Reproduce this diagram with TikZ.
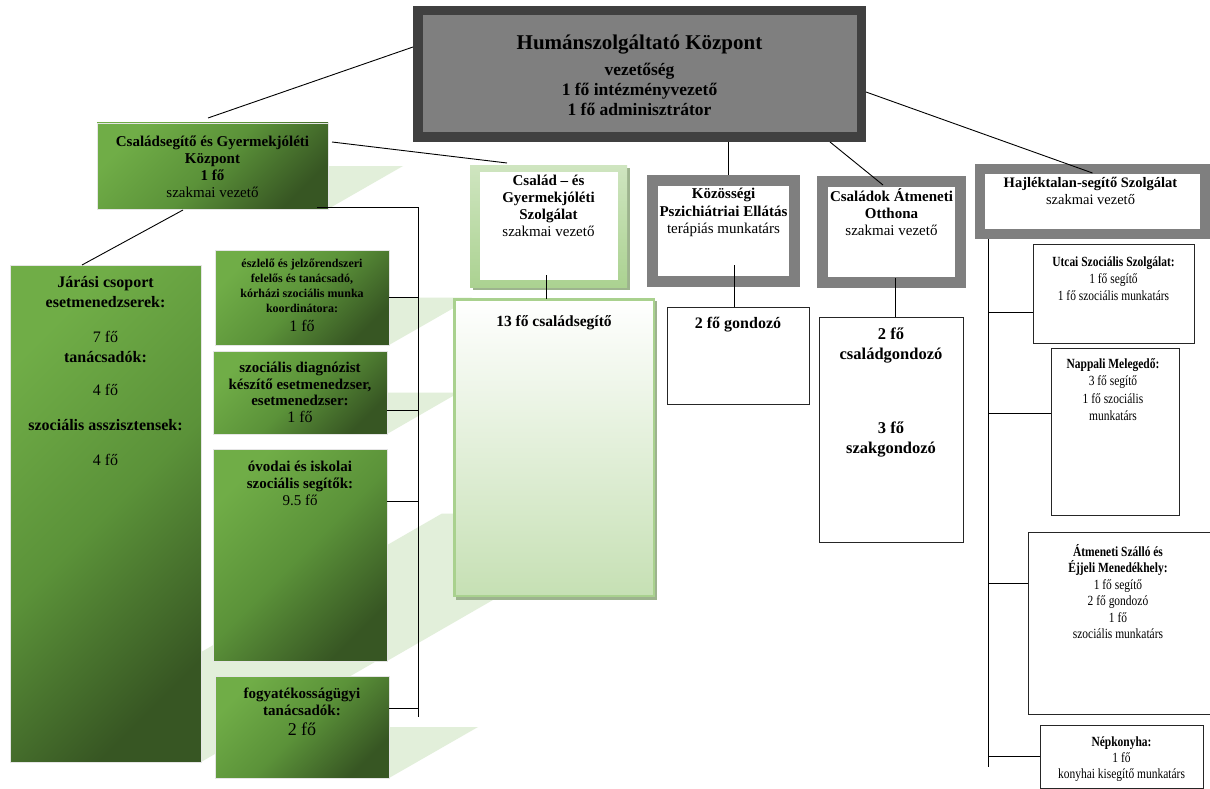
\documentclass[tikz,border=0pt]{standalone}
\usepackage{fontspec}
\setmainfont{Liberation Serif}
\newfontfamily\narrowfont[FakeStretch=0.82]{Liberation Serif}
\usetikzlibrary{calc}
\definecolor{gl}{HTML}{70AD47}
\definecolor{gm}{HTML}{5B9239}
\definecolor{gd}{HTML}{375623}
\definecolor{shd}{HTML}{E2EFDA}
\definecolor{dkgray}{HTML}{404040}
\definecolor{midgray}{HTML}{7F7F7F}
\definecolor{frtop}{HTML}{CFE5C0}
\definecolor{frbot}{HTML}{ABD291}
\definecolor{lgreen}{HTML}{A9D18E}
\definecolor{pale}{HTML}{C6E0B4}
\definecolor{boxshadow}{HTML}{9DB38E}
\tikzset{
  conn/.style={draw=black, line width=0.9pt},
  greenbox/.style={rectangle, anchor=north west, inner sep=0pt, outer sep=0pt,
    draw=black!10, line width=0.8pt,
    top color=gl, bottom color=gd, middle color=gm, shading angle=45},
  persp/.style={fill=shd},
  txt/.style={align=center, inner sep=0pt, outer sep=0pt, text=black},
  wbox/.style={rectangle, anchor=north west, inner sep=0pt, outer sep=0pt,
    draw=black!85, line width=0.9pt, fill=white},
  grayframe/.style={rectangle, inner sep=0pt, outer sep=5.5pt, draw=midgray,
    line width=11pt, fill=white},
}
\begin{document}
\begin{tikzpicture}[x=1pt,y=-1pt]
\useasboundingbox (0,0) rectangle (1210,789);
\clip (0,0) rectangle (1210,789);
\fill[white] (0,0) rectangle (1210,789);

% perspective shadows of the green boxes
\fill[persp] (10,762) -- (201,762) -- (633,513.5) -- (442,513.5) -- cycle;
\fill[persp] (97,209) -- (328,209) -- (403,166) -- (172,166) -- cycle;
\fill[persp] (215,345) -- (389,345) -- (472,297.5) -- (298,297.5) -- cycle;
\fill[persp] (213,434) -- (387,434) -- (459,392.5) -- (285,392.5) -- cycle;
\fill[persp] (213,661) -- (387,661) -- (571,555) -- (397,555) -- cycle;
\fill[persp] (215,778) -- (389,778) -- (478,727) -- (304,727) -- cycle;

% top box
\node[draw=dkgray, fill=midgray, line width=9.5pt, outer sep=4.75pt, inner sep=0pt,
  minimum width=443.5pt, minimum height=126.5pt] (top) at (639.5,74) {};
\node[txt, font=\fontsize{17.5}{20}\selectfont\bfseries] (top-t) at ([shift={(0,1.5)}]top.center)
  {{\fontsize{21}{24}\selectfont Humánszolgáltató Központ}\\[6pt]vezetőség\\1 fő intézményvezető\\1 fő adminisztrátor};

% green boxes
\node[greenbox, minimum width=231pt, minimum height=86pt] (csgyk) at (97,123) {};
\node[txt, font=\fontsize{15}{17}\selectfont] (csgyk-t) at ([shift={(0,1)}]csgyk.center)
  {\textbf{Családsegítő és Gyermekjóléti}\\\textbf{Központ}\\\textbf{1 fő}\\szakmai vezető};
\node[greenbox, minimum width=191pt, minimum height=497pt] (jarasi) at (10,265) {};
\node[txt, anchor=north, font=\fontsize{16}{20}\selectfont] (jarasi-t) at ([shift={(0,11.5)}]jarasi.north)
  {\textbf{Járási csoport}\\\textbf{esetmenedzserek:}\\[15pt]7 fő\\\textbf{tanácsadók:}\\[13pt]4 fő\\[15pt]\textbf{szociális asszisztensek:}\\[15pt]4 fő};
\node[greenbox, minimum width=174pt, minimum height=95pt] (eszlelo) at (215,250) {};
\node[txt, font=\fontsize{12}{15.2}\selectfont] (eszlelo-t) at ([shift={(0,-2.5)}]eszlelo.center)
  {\textbf{észlelő és jelzőrendszeri}\\\textbf{felelős és tanácsadó,}\\\textbf{kórházi szociális munka}\\\textbf{koordinátora:}\\[3pt]{\fontsize{16}{17}\selectfont 1 fő}};
\node[greenbox, minimum width=174pt, minimum height=83pt] (szocdiag) at (213,351) {};
\node[txt, font=\fontsize{15}{16.7}\selectfont] (szocdiag-t) at ([shift={(0,0)}]szocdiag.center)
  {\textbf{szociális diagnózist}\\\textbf{készítő esetmenedzser,}\\\textbf{esetmenedzser:}\\{\fontsize{16}{17}\selectfont 1 fő}};
\node[greenbox, minimum width=174pt, minimum height=212pt] (ovodai) at (213,449) {};
\node[txt, anchor=north, font=\fontsize{15}{17}\selectfont] (ovodai-t) at ([shift={(0,12)}]ovodai.north)
  {\textbf{óvodai és iskolai}\\\textbf{szociális segítők:}\\9.5 fő};
\node[greenbox, minimum width=174pt, minimum height=102pt] (fogyatek) at (215,676) {};
\node[txt, anchor=north, font=\fontsize{15}{17}\selectfont] (fogyatek-t) at ([shift={(0,12)}]fogyatek.north)
  {\textbf{fogyatékosságügyi}\\\textbf{tanácsadók:}\\[3pt]{\fontsize{18}{19}\selectfont 2 fő}};

% Család - és Gyermekjóléti Szolgálat
\fill[boxshadow] (473,168) rectangle (630,290);
\node[rectangle, anchor=north west, inner sep=0pt, outer sep=0pt, minimum width=157pt,
  minimum height=122pt, top color=frtop, bottom color=frbot] (csgysz) at (470,165) {};
\node[rectangle, anchor=north west, inner sep=0pt, outer sep=0pt, fill=white,
  minimum width=138pt, minimum height=108pt] (csgysz-in) at (480,172) {};
\node[txt, anchor=north, font=\fontsize{15}{17}\selectfont] (csgysz-t) at ([shift={(0,10)}]csgysz.north)
  {\textbf{Család -- és}\\\textbf{Gyermekjóléti}\\\textbf{Szolgálat}\\szakmai vezető};

% 13 fő családsegítő
\fill[boxshadow] (456,301) rectangle (657,600);
\node[rectangle, draw=lgreen, line width=2.5pt, inner sep=0pt, outer sep=0pt,
  top color=white, bottom color=pale, minimum width=199.5pt, minimum height=296.5pt] (csal13) at (554,447.5) {};
\node[txt, anchor=north, font=\fontsize{15.5}{17}\selectfont\bfseries] (csal13-t) at ([shift={(0,16)}]csal13.north)
  {13 fő családsegítő};

% gray-framed boxes
\node[grayframe, minimum width=142pt, minimum height=101pt] (kozos) at (723.5,231) {};
\node[txt, anchor=north, font=\fontsize{15}{17.5}\selectfont] (kozos-t) at ([shift={(0,13.5)}]kozos.north)
  {\textbf{Közösségi}\\\textbf{Pszichiátriai Ellátás}\\terápiás munkatárs};
\node[grayframe, minimum width=138pt, minimum height=101pt] (csaladok) at (891.5,232) {};
\node[txt, anchor=north, font=\fontsize{15}{17}\selectfont] (csaladok-t) at ([shift={(0,13)}]csaladok.north)
  {\textbf{Családok Átmeneti}\\\textbf{Otthona}\\szakmai vezető};
\node[grayframe, line width=10pt, outer sep=5pt, minimum width=225pt, minimum height=65pt] (hajl) at (1092.5,201.5) {};
\node[txt, anchor=north, font=\fontsize{14.5}{17}\selectfont] (hajl-t) at ([shift={(-2,13)}]hajl.north)
  {\textbf{Hajléktalan-segítő Szolgálat}\\szakmai vezető};

% white boxes
\node[wbox, minimum width=142pt, minimum height=97pt] (gond2) at (667,307) {};
\node[txt, anchor=north, font=\fontsize{16}{18}\selectfont\bfseries] (gond2-t) at ([shift={(0,10)}]gond2.north)
  {2 fő gondozó};
\node[wbox, minimum width=144pt, minimum height=225pt] (csgond) at (819,317) {};
\node[txt, anchor=north, font=\fontsize{16.5}{20}\selectfont\bfseries] (csgond-t) at ([shift={(0,11)}]csgond.north)
  {2 fő\\családgondozó\\[54pt]3 fő\\szakgondozó};

\node[wbox, minimum width=161pt, minimum height=99pt] (utcai) at (1033,244) {};
\node[txt, anchor=north, font=\narrowfont\fontsize{14}{17}\selectfont] (utcai-t) at ([shift={(0,12.5)}]utcai.north)
  {\textbf{Utcai Szociális Szolgálat:}\\1 fő segítő\\1 fő szociális munkatárs};
\node[wbox, minimum width=128pt, minimum height=167pt] (nappali) at (1051,348) {};
\node[txt, anchor=north, font=\narrowfont\fontsize{14}{17.5}\selectfont] (nappali-t) at ([shift={(-2,10.5)}]nappali.north)
  {\textbf{Nappali Melegedő:}\\3 fő segítő\\1 fő szociális\\munkatárs};
\node[wbox, minimum width=184pt, minimum height=182pt] (atmen) at (1028,532) {};
\node[txt, anchor=north, font=\narrowfont\fontsize{14}{16.4}\selectfont] (atmen-t) at (1118,544.5)
  {\textbf{Átmeneti Szálló és}\\\textbf{Éjjeli Menedékhely:}\\1 fő segítő\\2 fő gondozó\\1 fő\\szociális munkatárs};
\node[wbox, minimum width=163pt, minimum height=63pt] (nepk) at (1040,725) {};
\node[txt, anchor=north, font=\narrowfont\fontsize{14}{15.8}\selectfont] (nepk-t) at ([shift={(0,12)}]nepk.north)
  {\textbf{Népkonyha:}\\1 fő\\konyhai kisegítő munkatárs};

% connectors
\draw[conn] ([shift={(0,-27)}]top.west) -- ([shift={(-4.5,-5)}]csgyk.north);
\draw[conn] ([shift={(4,-24)}]csgyk.east) -- ([shift={(-41.5,-2)}]csgysz.north);
\draw[conn] ([shift={(88.5,0)}]top.south) coordinate (k1) -- (k1 |- kozos.north);
\draw[conn] ([shift={(190.5,0)}]top.south) -- ([shift={(-8.5,9)}]csaladok.north);
\draw[conn] ([shift={(0,18)}]top.east) -- ([shift={(0,9)}]hajl.north);
\draw[conn] ([shift={(-29.5,1)}]csgyk.south) -- ([shift={(-23.5,0)}]jarasi.north);

\coordinate (gbus) at (418,717);
\draw[conn] ([shift={(-11,-1.5)}]csgyk.south east) -| (gbus);
\draw[conn] (eszlelo.east) -- (eszlelo.east -| gbus);
\draw[conn] ([shift={(0,18)}]szocdiag.east) coordinate (b2) -- (b2 -| gbus);
\draw[conn] ([shift={(0,-54)}]ovodai.east) coordinate (b3) -- (b3 -| gbus);
\draw[conn] ([shift={(0,-19)}]fogyatek.east) coordinate (b4) -- (b4 -| gbus);

\draw[conn] ([shift={(-2.5,-12)}]csgysz.south) coordinate (c1) -- (c1 |- csal13.north);
\draw[conn] ([shift={(10.5,-22)}]kozos.south) coordinate (c2) -- (c2 |- gond2.north);
\draw[conn] ([shift={(3.5,-10)}]csaladok.south) coordinate (c3) -- (c3 |- csgond.north);

\coordinate (hbus) at (988,767);
\draw[conn] (hajl.south west -| hbus) -- (hbus);
\draw[conn] ([shift={(0,18.5)}]utcai.west) coordinate (h1) -- (h1 -| hbus);
\draw[conn] ([shift={(0,-18.5)}]nappali.west) coordinate (h2) -- (h2 -| hbus);
\draw[conn] ([shift={(0,-40)}]atmen.west) coordinate (h3) -- (h3 -| hbus);
\draw[conn] (nepk.west) -- (nepk.west -| hbus);
\end{tikzpicture}
\end{document}
